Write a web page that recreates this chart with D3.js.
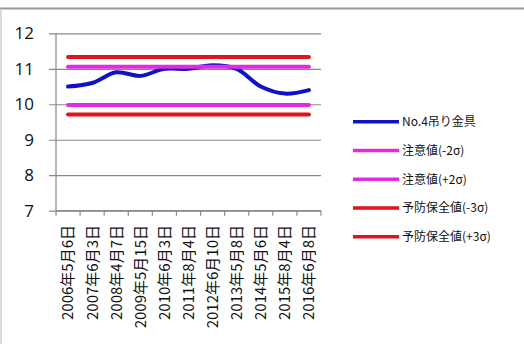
<!DOCTYPE html>
<html>
<head>
<meta charset="utf-8">
<script src="https://cdn.jsdelivr.net/npm/d3@7"></script>
<style>
  html, body { margin: 0; padding: 0; background: #fff; }
  svg { display: block; }
</style>
</head>
<body>
<svg id="chart" width="524" height="344"></svg>
<script>
// Measurement dates (category axis)
const categories = ["2006年5月6日", "2007年6月3日", "2008年4月7日", "2009年5月15日", "2010年6月3日",
  "2011年8月4日", "2012年6月10日", "2013年5月8日", "2014年5月6日", "2015年8月4日", "2016年6月8日"];
// Measured values for the No.4 hanger fitting
const measured = [10.5, 10.6, 10.9, 10.8, 11.0, 11.0, 11.1, 11.0, 10.5, 10.3, 10.4];
// Control limits
const limitNames = ["注意値(-2σ)", "注意値(+2σ)", "予防保全値(-3σ)", "予防保全値(+3σ)"];
const limitValues = [9.98, 11.06, 9.71, 11.33];
const seriesName = "No.4吊り金具";
const yTicks = [7, 8, 9, 10, 11, 12];

const colors = { blue: "#1010c8", magenta: "#e22ae2", red: "#e0141c" };
const limitColors = [colors.magenta, colors.magenta, colors.red, colors.red];

const svg = d3.select("#chart");
const cjk = "'Noto Sans CJK JP', 'Noto Sans', sans-serif";

// Chart frame
svg.append("line").attr("x1", 0).attr("x2", 524).attr("y1", 8.5).attr("y2", 8.5)
  .attr("stroke", "#9a9a9a").attr("stroke-width", 2);
svg.append("line").attr("x1", 1).attr("x2", 1).attr("y1", 9).attr("y2", 344)
  .attr("stroke", "#cfcfcf").attr("stroke-width", 1.5);

const plot = { left: 56, right: 321, top: 33.3, bottom: 210.7 };

const x = d3.scaleBand().domain(categories).range([plot.left, plot.right]).padding(0);
const cx = d => x(d) + x.bandwidth() / 2;
const y = d3.scaleLinear().domain([7, 12]).range([plot.bottom, plot.top]);

// Horizontal gridlines with left tick labels
const yAxis = d3.axisLeft(y).tickValues(yTicks).tickSize(-(plot.right - plot.left) - 7).tickPadding(0)
  .tickFormat(d3.format("d"));
const gy = svg.append("g").attr("transform", `translate(${plot.right},0)`).call(yAxis);
gy.select(".domain").remove();
gy.selectAll(".tick line").attr("stroke", "#8a8a8a").attr("stroke-width", 1.2)
  .attr("x1", 0).attr("x2", -(plot.right - plot.left) - 7);
gy.selectAll(".tick text")
  .attr("x", -(plot.right - 34))
  .attr("text-anchor", "end")
  .attr("font-family", "'Open Sans', sans-serif")
  .attr("font-size", 17)
  .attr("fill", "#111");

// Vertical value axis line
svg.append("line").attr("x1", plot.left).attr("x2", plot.left)
  .attr("y1", plot.top).attr("y2", plot.bottom)
  .attr("stroke", "#8a8a8a").attr("stroke-width", 1.2);

// Category axis with tick marks at band boundaries
const gx = svg.append("g");
gx.append("line").attr("x1", plot.left).attr("x2", plot.right)
  .attr("y1", plot.bottom).attr("y2", plot.bottom)
  .attr("stroke", "#8a8a8a").attr("stroke-width", 1.2);
const bounds = categories.map(d => x(d)).concat([x(categories[categories.length - 1]) + x.bandwidth()]);
gx.selectAll("line.tk").data(bounds).join("line").attr("class", "tk")
  .attr("x1", d => d).attr("x2", d => d)
  .attr("y1", plot.bottom).attr("y2", plot.bottom + 5)
  .attr("stroke", "#8a8a8a").attr("stroke-width", 1.2);
gx.selectAll("text").data(categories).join("text")
  .attr("transform", d => `translate(${cx(d)},225) rotate(-90)`)
  .attr("text-anchor", "end")
  .attr("dy", "0.36em")
  .attr("font-family", cjk)
  .attr("font-size", 15)
  .attr("fill", "#111")
  .text(d => d);

// Measured series (smoothed line)
const line = d3.line().x((d, i) => cx(categories[i])).y(d => y(d)).curve(d3.curveCatmullRom);
svg.append("path").datum(measured).attr("d", line)
  .attr("fill", "none").attr("stroke", colors.blue).attr("stroke-width", 4)
  .attr("stroke-linejoin", "round").attr("stroke-linecap", "round");

// Control limit lines
svg.selectAll("line.limit").data(limitValues).join("line").attr("class", "limit")
  .attr("x1", cx(categories[0])).attr("x2", cx(categories[categories.length - 1]))
  .attr("y1", d => y(d)).attr("y2", d => y(d))
  .attr("stroke", (d, i) => limitColors[i]).attr("stroke-width", 4)
  .attr("stroke-linecap", "round");

// Legend
const legendItems = [{ name: seriesName, color: colors.blue }]
  .concat(limitNames.map((n, i) => ({ name: n, color: limitColors[i] })));
const lg = svg.append("g").selectAll("g").data(legendItems).join("g")
  .attr("transform", (d, i) => `translate(353,${121.7 + i * 28.75})`);
lg.append("line").attr("x1", 0).attr("x2", 46).attr("y1", 0).attr("y2", 0)
  .attr("stroke", d => d.color).attr("stroke-width", 3.5);
lg.append("text").attr("x", 49).attr("dy", "0.36em")
  .attr("font-family", cjk).attr("font-size", 12).attr("fill", "#111")
  .text(d => d.name);
</script>
</body>
</html>
